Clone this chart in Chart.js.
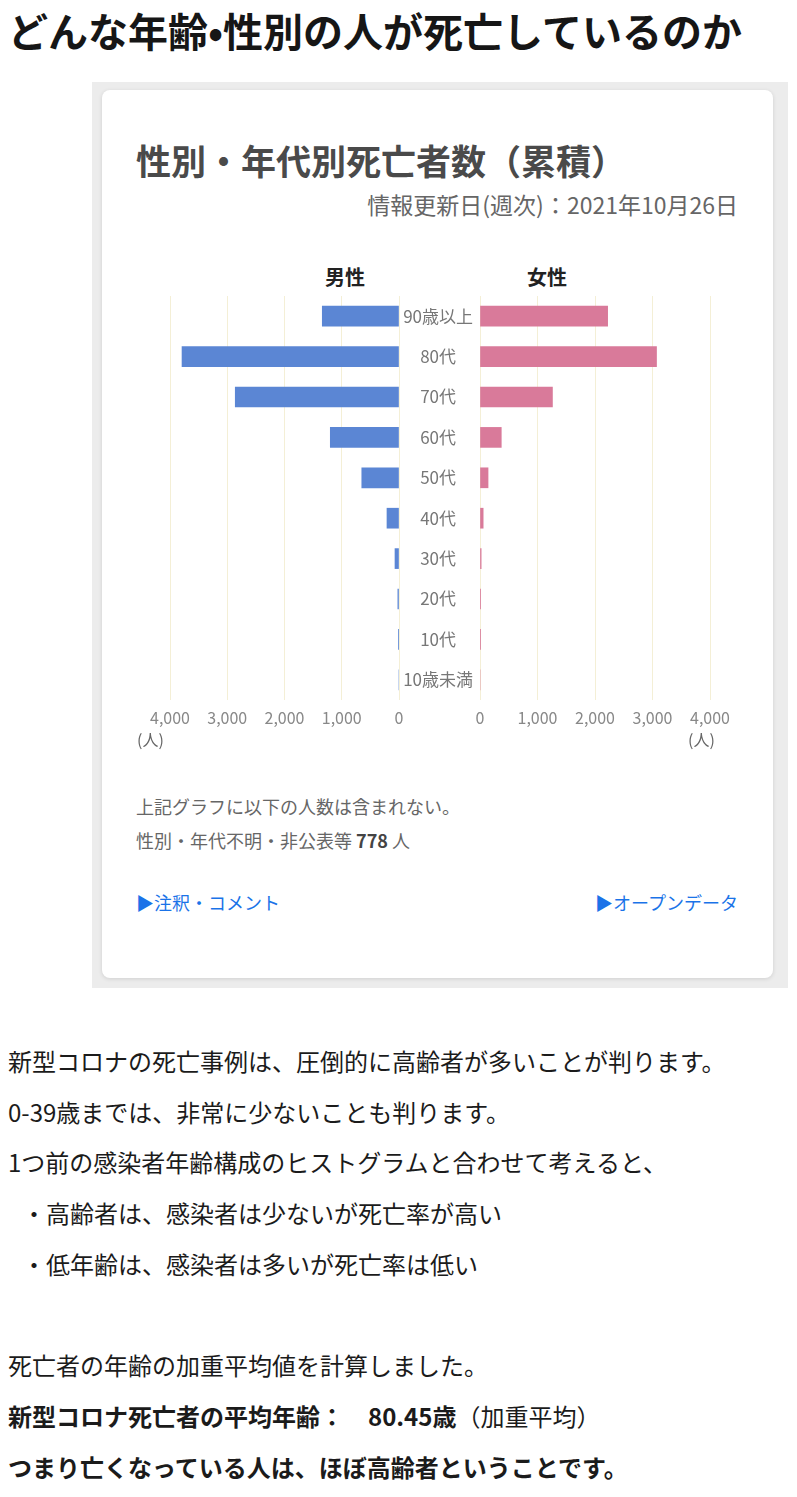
<!DOCTYPE html>
<html lang="ja">
<head>
<meta charset="utf-8">
<title>性別・年代別死亡者数（累積）</title>
<script src="https://cdn.jsdelivr.net/npm/chart.js@4/dist/chart.umd.min.js"></script>
<style>
  body {
    margin: 0;
    width: 797px;
    height: 1497px;
    position: relative;
    background: #fff;
    font-family: "Noto Sans CJK JP", "Noto Sans", sans-serif;
    color: #1b1b1b;
    overflow: hidden;
  }
  h1 {
    position: absolute;
    left: 8px;
    top: 8px;
    margin: 0;
    font-size: 40px;
    line-height: 44px;
    font-weight: bold;
    color: #161616;
    white-space: nowrap;
  }
  .frame {
    position: absolute;
    left: 92px;
    top: 82px;
    width: 696px;
    height: 906px;
    background: #ececec;
  }
  .card {
    position: absolute;
    left: 10px;
    top: 8px;
    width: 671px;
    height: 888px;
    background: #fff;
    border-radius: 8px;
    box-shadow: 0 1px 4px rgba(0, 0, 0, 0.12);
  }
  .card div { position: absolute; white-space: nowrap; }
  .title { left: 34px; top: 51px; font-size: 35px; line-height: 38px; font-weight: bold; color: #4a4a4a; }
  .updated { right: 35px; top: 101px; font-size: 23px; line-height: 26px; color: #666; }
  .sex { top: 175px; width: 100px; text-align: center; font-size: 20px; line-height: 24px; font-weight: bold; color: #222; }
  .unit { top: 639px; font-size: 16px; line-height: 20px; color: #666; }
  .note { left: 34px; font-size: 18px; line-height: 22px; color: #666; }
  .note b { color: #444; }
  .link { top: 801px; font-size: 18px; line-height: 22px; color: #1a73e8; }
  .text {
    position: absolute;
    left: 8px;
    top: 1036px;
    margin: 0;
    font-size: 24px;
    line-height: 50.7px;
  }
  .text p { margin: 0; }
  .text .item { padding-left: 14px; }
</style>
</head>
<body>
<h1>どんな年齢•性別の人が死亡しているのか</h1>

<div class="frame">
  <div class="card">
    <div class="title">性別・年代別死亡者数（累積）</div>
    <div class="updated">情報更新日(週次)：2021年10月26日</div>
    <div class="sex" style="left:193px">男性</div>
    <div class="sex" style="left:395px">女性</div>
    <div style="left:38px; top:206px; width:270px; height:440px">
      <canvas id="maleChart" width="270" height="440"></canvas>
    </div>
    <div style="left:297px; top:206px; width:341px; height:440px">
      <canvas id="femaleChart" width="341" height="440"></canvas>
    </div>
    <div class="unit" style="left:35px">(人)</div>
    <div class="unit" style="left:586px">(人)</div>
    <div class="note" style="top:705px">上記グラフに以下の人数は含まれない。</div>
    <div class="note" style="top:739px">性別・年代不明・非公表等 <b>778</b> 人</div>
    <div class="link" style="left:34px">▶注釈・コメント</div>
    <div class="link" style="right:35px">▶オープンデータ</div>
  </div>
</div>

<div class="text">
  <p>新型コロナの死亡事例は、圧倒的に高齢者が多いことが判ります。</p>
  <p>0-39歳までは、非常に少ないことも判ります。</p>
  <p>1つ前の感染者年齢構成のヒストグラムと合わせて考えると、</p>
  <p class="item">・高齢者は、感染者は少ないが死亡率が高い</p>
  <p class="item">・低年齢は、感染者は多いが死亡率は低い</p>
  <p>&nbsp;</p>
  <p>死亡者の年齢の加重平均値を計算しました。</p>
  <p><b>新型コロナ死亡者の平均年齢：　80.45歳</b>（加重平均）</p>
  <p><b>つまり亡くなっている人は、ほぼ高齢者ということです。</b></p>
</div>

<script>
// 年代区分
const ageGroups = ['90歳以上', '80代', '70代', '60代', '50代', '40代', '30代', '20代', '10代', '10歳未満'];
// 死亡者数
const maleDeaths = [1340, 3790, 2860, 1200, 650, 210, 70, 20, 3, 0];
const femaleDeaths = [2220, 3070, 1260, 370, 140, 55, 20, 6, 1, 0];
const axisTicks = [0, 1000, 2000, 3000, 4000];

const maleColor = '#5b86d4';
const femaleColor = '#d97a9a';
const gridColor = '#f4efd6';
const fontFamily = '"Noto Sans CJK JP", "Noto Sans", sans-serif';

Chart.defaults.font.family = fontFamily;
Chart.defaults.animation = false;

function xAxis(reverse) {
    return {
        type: 'linear',
        reverse: reverse,
        min: axisTicks[0],
        max: axisTicks[axisTicks.length - 1],
        afterBuildTicks: scale => {
            scale.ticks = axisTicks.map(v => ({ value: v }));
        },
        afterFit: scale => {
            scale.height = 36;
            scale.paddingLeft = 0;
            scale.paddingRight = 0;
        },
        grid: { color: gridColor, drawTicks: false },
        border: { display: false },
        ticks: {
            color: '#888',
            padding: 8,
            font: { size: 16 },
            callback: v => v.toLocaleString('en-US')
        }
    };
}

// 男性（左向き）
new Chart(document.getElementById('maleChart'), {
    type: 'bar',
    data: {
        labels: ageGroups,
        datasets: [{
            label: '男性',
            data: maleDeaths,
            backgroundColor: maleColor,
            barThickness: 20
        }]
    },
    options: {
        indexAxis: 'y',
        responsive: false,
        layout: { padding: { left: 30, right: 11, top: 0, bottom: 0 } },
        plugins: { legend: { display: false }, tooltip: { enabled: false } },
        scales: {
            x: xAxis(true),
            y: { display: false }
        }
    }
});

// 女性（右向き）、中央に年代ラベル
new Chart(document.getElementById('femaleChart'), {
    type: 'bar',
    data: {
        labels: ageGroups,
        datasets: [{
            label: '女性',
            data: femaleDeaths,
            backgroundColor: femaleColor,
            barThickness: 20
        }]
    },
    options: {
        indexAxis: 'y',
        responsive: false,
        layout: { padding: { left: 0, right: 30, top: 0, bottom: 0 } },
        plugins: { legend: { display: false }, tooltip: { enabled: false } },
        scales: {
            x: xAxis(false),
            y: {
                afterFit: scale => {
                    scale.width = 81;
                    scale.paddingTop = 0;
                    scale.paddingBottom = 0;
                },
                grid: { display: false, drawTicks: false },
                border: { display: false },
                ticks: {
                    color: '#777',
                    padding: 7,
                    crossAlign: 'center',
                    font: { size: 17 }
                }
            }
        }
    }
});
</script>
</body>
</html>
